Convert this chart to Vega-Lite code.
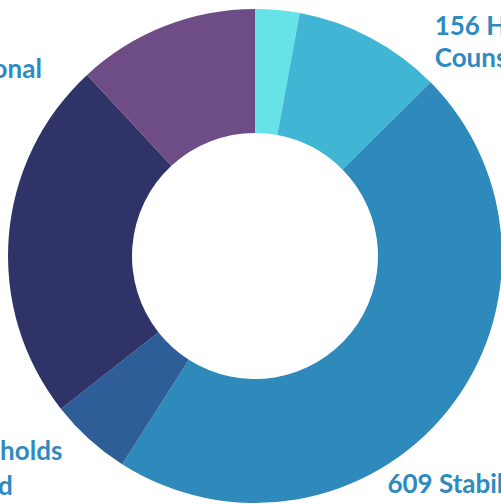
{
  "$schema": "https://vega.github.io/schema/vega-lite/v6.json",
  "width": 492,
  "height": 496,
  "autosize": "none",
  "padding": {"left": 9, "top": 8, "right": 0, "bottom": 0},
  "background": "white",
  "config": {"view": {"stroke": null}},
  "data": {
    "values": [
      {"idx": 1, "cat": "Referrals", "value": 38, "label": ""},
      {"idx": 2, "cat": "Financial Assistance", "value": 127, "label": ""},
      {"idx": 3, "cat": "Stabilized in Housing", "value": 609, "label": "609 Stabilized\nin Housing"},
      {"idx": 4, "cat": "Households Rehoused", "value": 70, "label": "70 Households\nRe-housed"},
      {"idx": 5, "cat": "Educational", "value": 311, "label": "311 Educational"},
      {"idx": 6, "cat": "Housing Counseling", "value": 156, "label": "156 Housing\nCounseling"}
    ]
  },
  "encoding": {
    "theta": {"field": "value", "type": "quantitative", "stack": true},
    "order": {"field": "idx", "type": "quantitative"}
  },
  "layer": [
    {
      "mark": {"type": "arc", "innerRadius": 123, "outerRadius": 247},
      "encoding": {
        "color": {
          "field": "cat",
          "type": "nominal",
          "scale": {
            "domain": ["Referrals", "Financial Assistance", "Stabilized in Housing", "Households Rehoused", "Educational", "Housing Counseling"],
            "range": ["#66e3e6", "#41b6d4", "#2e8abb", "#2d5e97", "#2f3368", "#6e4c85"]
          },
          "legend": null
        }
      }
    },
    {
      "mark": {"type": "text", "radius": 250, "dx": 271, "dy": 12, "align": "left", "baseline": "alphabetic", "font": "Lato", "fontWeight": "bold", "fontSize": 26, "lineHeight": 32, "lineBreak": "\n", "color": "#2e8bc0"},
      "encoding": {"text": {"condition": {"test": "datum.idx === 6", "field": "label"}, "value": ""}}
    },
    {
      "mark": {"type": "text", "radius": 300, "dx": -101, "dy": 49, "align": "left", "baseline": "alphabetic", "font": "Lato", "fontWeight": "bold", "fontSize": 26, "lineHeight": 32, "lineBreak": "\n", "color": "#2e8bc0"},
      "encoding": {"text": {"condition": {"test": "datum.idx === 3", "field": "label"}, "value": ""}}
    },
    {
      "mark": {"type": "text", "radius": 280, "dx": -178, "dy": -4, "align": "left", "baseline": "alphabetic", "font": "Lato", "fontWeight": "bold", "fontSize": 26, "lineHeight": 35, "lineBreak": "\n", "color": "#2e8bc0"},
      "encoding": {"text": {"condition": {"test": "datum.idx === 4", "field": "label"}, "value": ""}}
    },
    {
      "mark": {"type": "text", "radius": 280, "dx": 66, "dy": -156, "align": "right", "baseline": "alphabetic", "font": "Lato", "fontWeight": "bold", "fontSize": 26, "lineHeight": 32, "lineBreak": "\n", "color": "#2e8bc0"},
      "encoding": {"text": {"condition": {"test": "datum.idx === 5", "field": "label"}, "value": ""}}
    }
  ]
}
